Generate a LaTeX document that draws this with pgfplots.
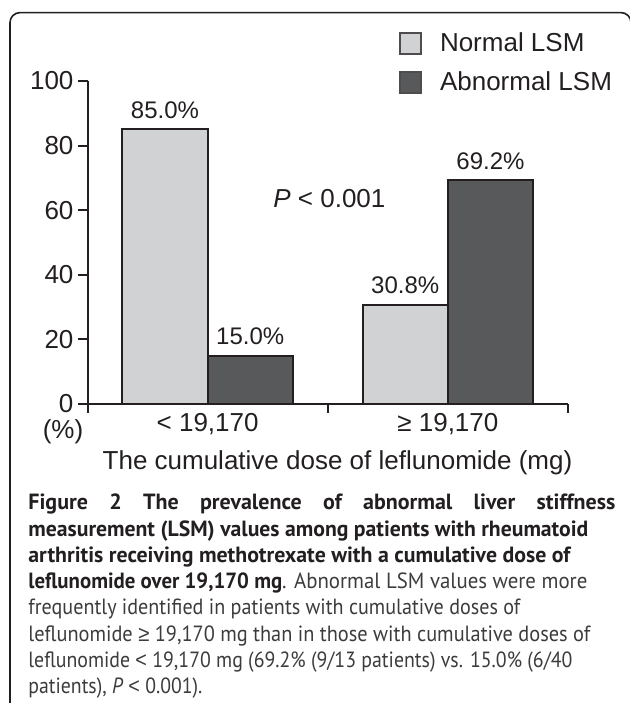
\documentclass[border=0pt]{standalone}
\usepackage{fontspec}
\setmainfont{Liberation Sans}
\newfontfamily\capfont{PT Sans}
\newfontfamily\symf{Liberation Sans}
\usepackage{graphicx}
\usepackage{pgfplots}
\pgfplotsset{compat=1.18}
\definecolor{lightbar}{RGB}{209,210,212}
\definecolor{darkbar}{RGB}{88,89,91}
\definecolor{ink}{RGB}{35,31,32}
\definecolor{capink}{RGB}{60,60,60}
\pgfplotstableread{
x val
1 85.0
2 30.8
}\normaltab
\pgfplotstableread{
x val
1 15.0
2 69.2
}\abnormaltab
\newcommand{\capline}[3]{\node at (14,#1) {\resizebox{#2pt}{\height}{#3}};}
\begin{document}
\begin{tikzpicture}[x=1pt,y=1pt]
\useasboundingbox (0,0) rectangle (314.5,351.5);
\draw[ink, line width=0.8pt, rounded corners=5pt] (5,-20) rectangle (315.5,345.2);
\begin{axis}[
  at={(43.75pt,149.5pt)}, anchor=south west,
  scale only axis, width=240.25pt, height=161.5pt,
  xmin=0.5, xmax=2.5, ymin=0, ymax=100,
  axis x line=bottom, axis y line=left,
  axis line style={-, line width=1pt, ink},
  tick align=outside,
  major tick length=4.5pt,
  tick style={line width=1pt, ink},
  ytick={0,20,40,60,80,100},
  xtick={0.5,1.5,2.5}, xticklabels={},
  extra x ticks={1,2},
  extra x tick labels={{< 19,170}, {≥ 19,170}},
  extra x tick style={tick style={draw=none}},
  /pgf/number format/assume math mode=true,
  ticklabel style={font=\fontsize{13}{13}\selectfont, text=ink},
  xticklabel style={yshift=3.5pt},
  yticklabel style={xshift=1pt},
  ybar, bar width=0.355,
  nodes near coords={\pgfmathprintnumber[fixed,fixed zerofill,precision=1]{\pgfplotspointmeta}\%},
  every node near coord/.append style={font=\fontsize{12}{12}\selectfont, text=ink, anchor=base, yshift=5.5pt, inner sep=0pt},
  xlabel={The cumulative dose of leflunomide (mg)},
  xlabel style={at={(axis description cs:0.5203,0)}, anchor=base, yshift=-33pt, font=\fontsize{13}{13}\selectfont, text=ink, inner sep=0pt},
  legend style={draw=none, fill=none, inner sep=0pt, outer sep=0pt,
    at={(0.6483,1.161)}, anchor=north west,
    font=\fontsize{13}{13}\selectfont, text=ink, row sep=4.5pt,
    /tikz/every odd column/.append style={column sep=7pt}},
  legend cell align=left,
  clip=false,
]
\addplot[fill=lightbar, draw=ink, line width=1pt, bar shift=-0.1775,
  legend image code/.code={\draw[fill=lightbar, draw=ink!80, line width=1pt] (0pt,-5.25pt) rectangle (10.5pt,5.25pt);}]
  table[x=x, y=val] {\normaltab};
\addplot[fill=darkbar, draw=ink, line width=1pt, bar shift=0.1775,
  legend image code/.code={\draw[fill=darkbar, draw=ink!80, line width=1pt] (0pt,-5.25pt) rectangle (10.5pt,5.25pt);}]
  table[x=x, y=val] {\abnormaltab};
\legend{Normal LSM, Abnormal LSM}
\end{axis}
\node[anchor=base west, inner sep=0pt, font=\fontsize{13}{13}\selectfont, text=ink] at (136.5,247.5) {\textit{P} < 0.001};
\node[anchor=center, inner sep=0pt, font=\fontsize{13}{13}\selectfont, text=ink] at (31.5,135.5) {(\%)};
\begin{scope}[every node/.style={anchor=base west, inner sep=0pt, font=\capfont\fontsize{11}{13}\selectfont, text=capink}]
\node at (14,96.5) {\makebox[293.5pt][s]{\bfseries\color{ink}Figure 2 The prevalence of abnormal liver stiffness}};
\capline{83.35}{280}{\bfseries\color{ink}measurement (LSM) values among patients with rheumatoid}
\capline{70.25}{271}{\bfseries\color{ink}arthritis receiving methotrexate with a cumulative dose of}
\capline{57.1}{279.5}{{\bfseries\color{ink}leflunomide over 19,170 mg}. Abnormal LSM values were more}
\capline{44}{246}{frequently identified in patients with cumulative doses of}
\capline{30.85}{281}{leflunomide {\symf ≥} 19,170 mg than in those with cumulative doses of}
\capline{17.75}{272}{leflunomide {\symf <} 19,170 mg (69.2\% (9/13 patients) vs. 15.0\% (6/40}
\capline{4.6}{87}{patients), \textit{P} {\symf <} 0.001).}
\end{scope}
\end{tikzpicture}
\end{document}
